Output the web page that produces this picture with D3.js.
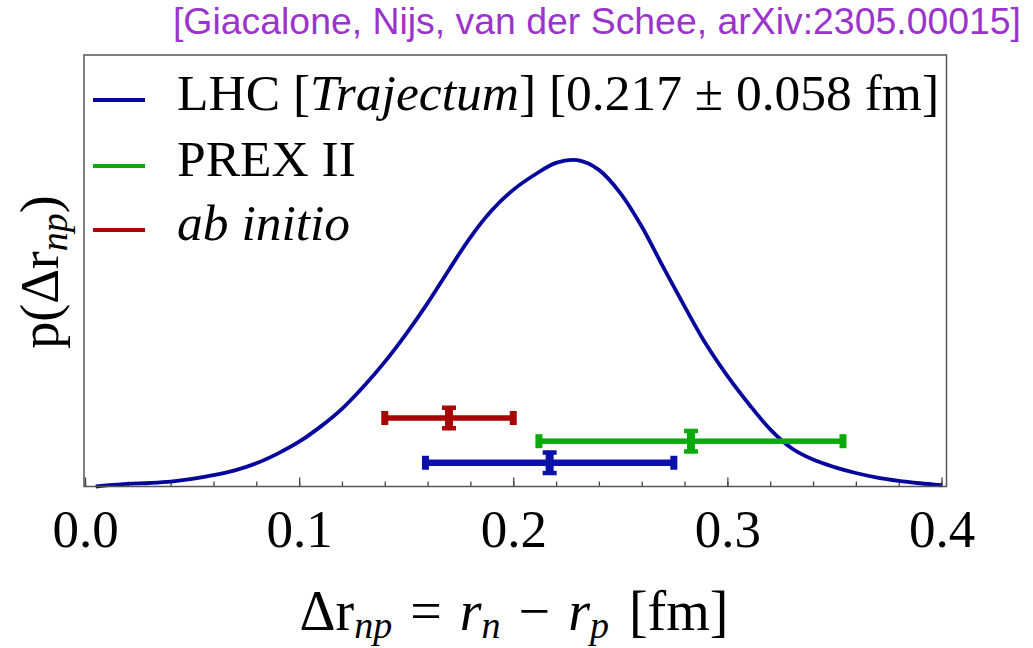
<!DOCTYPE html>
<html>
<head>
<meta charset="utf-8">
<script src="https://cdn.jsdelivr.net/npm/d3@7"></script>
<style>
  html, body { margin: 0; padding: 0; background: #fff; }
  svg { display: block; }
  .serif { font-family: "Liberation Serif", "Times New Roman", serif; fill: #000; }
</style>
</head>
<body>
<svg id="chart" width="1033" height="648"></svg>
<script>
// Posterior of the neutron skin thickness from LHC data, with PREX II and ab initio bands
const curveX = [0.005, 0.01, 0.02, 0.03, 0.04, 0.05, 0.06, 0.07, 0.08, 0.09, 0.10, 0.11, 0.12,
                0.13, 0.14, 0.15, 0.16, 0.17, 0.18, 0.19, 0.20, 0.21, 0.22, 0.23, 0.24,
                0.25, 0.26, 0.27, 0.28, 0.29, 0.30, 0.31, 0.32, 0.33, 0.34, 0.35, 0.36, 0.37,
                0.38, 0.39, 0.40];
const curveP = [0.00, 0.02, 0.05, 0.065, 0.09, 0.14, 0.21, 0.30, 0.43, 0.61, 0.83, 1.11, 1.44,
                1.85, 2.31, 2.83, 3.40, 4.02, 4.62, 5.12, 5.50, 5.78, 6.00, 6.05, 5.87,
                5.44, 4.82, 4.07, 3.34, 2.64, 2.05, 1.53, 1.06, 0.71, 0.50, 0.36, 0.25, 0.165,
                0.105, 0.06, 0.023];

// Measurements drawn as horizontal error bars
const barNames  = ["LHC", "PREX II", "ab initio"];
const barCenter = [0.217, 0.283, 0.17];
const barError  = [0.058, 0.071, 0.03];
const barLevel  = [0.44, 0.84, 1.27];
const barColors = ["#0a10a8", "#0aaa0a", "#a80606"];
const curveColor = "#06069c";

const xTicks = [0.0, 0.1, 0.2, 0.3, 0.4];
const xMinorTicks = d3.range(0, 0.4001, 0.02);

const svg = d3.select("#chart");

const frame = { left: 84, right: 946.5, top: 55, bottom: 486.5 };
const x = d3.scaleLinear().domain([0, 0.4]).range([85, 941.5]);
const y = d3.scaleLinear().domain([0, 8]).range([frame.bottom, frame.top]);

// Citation line
svg.append("text")
  .attr("x", 1021).attr("y", 34)
  .attr("text-anchor", "end")
  .style("font-family", "'Liberation Sans', Arial, sans-serif")
  .style("font-size", "37.4px")
  .style("fill", "#9b34cc")
  .text("[Giacalone, Nijs, van der Schee, arXiv:2305.00015]");

// Minor and major ticks pointing into the frame
const minorAxis = d3.axisBottom(x).tickValues(xMinorTicks).tickSize(-5).tickFormat("");
svg.append("g").attr("transform", `translate(0,${frame.bottom})`).call(minorAxis)
  .call(g => g.select(".domain").remove())
  .call(g => g.selectAll("line").attr("stroke", "#444").attr("stroke-width", 1.3));

const majorAxis = d3.axisBottom(x).tickValues(xTicks).tickSize(-9).tickPadding(23)
  .tickFormat(d3.format(".1f"));
svg.append("g").attr("transform", `translate(0,${frame.bottom})`).call(majorAxis)
  .call(g => g.select(".domain").remove())
  .call(g => g.selectAll("line").attr("stroke", "#444").attr("stroke-width", 1.3))
  .call(g => g.selectAll("text")
    .attr("class", "serif")
    .style("font-size", "53px")
    .style("fill", "#000"));

// Posterior curve
const line = d3.line()
  .x((d, i) => x(curveX[i]))
  .y((d, i) => y(curveP[i]))
  .curve(d3.curveCatmullRom.alpha(0.5));
svg.append("path")
  .datum(curveX)
  .attr("d", line)
  .attr("fill", "none")
  .attr("stroke", curveColor)
  .attr("stroke-width", 3.8)
  .attr("stroke-linejoin", "round");

// Error bars
const bars = svg.append("g");
barNames.forEach((name, i) => {
  const g = bars.append("g").attr("fill", barColors[i]);
  const yc = y(barLevel[i]);
  const x0 = x(barCenter[i] - barError[i]);
  const x1 = x(barCenter[i] + barError[i]);
  const xc = x(barCenter[i]);
  const thick = i === 0 ? 6.5 : 5.5;
  g.append("rect").attr("x", x0).attr("y", yc - thick / 2).attr("width", x1 - x0).attr("height", thick);
  [x0, x1].forEach(xe => {
    g.append("rect").attr("x", xe - 3.5).attr("y", yc - 7).attr("width", 7).attr("height", 14);
  });
  // centre marker
  g.append("rect").attr("x", xc - 4).attr("y", yc - 12).attr("width", 8).attr("height", 24);
  g.append("rect").attr("x", xc - 7).attr("y", yc - 12.5).attr("width", 14).attr("height", 4.5);
  g.append("rect").attr("x", xc - 7).attr("y", yc + 8).attr("width", 14).attr("height", 4.5);
});

// Frame
svg.append("rect")
  .attr("x", frame.left).attr("y", frame.top)
  .attr("width", frame.right - frame.left).attr("height", frame.bottom - frame.top)
  .attr("fill", "none").attr("stroke", "#555").attr("stroke-width", 1.5);

// Legend
const legendY = [110, 176, 240];
const legend = svg.append("g");
barNames.forEach((name, i) => {
  legend.append("line")
    .attr("x1", 93).attr("x2", 145)
    .attr("y1", legendY[i] - 10).attr("y2", legendY[i] - 10)
    .attr("stroke", i === 0 ? curveColor : barColors[i])
    .attr("stroke-width", 4);
});
const legendFont = "51.5px";
const lt0 = legend.append("text").attr("class", "serif").attr("x", 177).attr("y", legendY[0]).style("font-size", legendFont);
lt0.append("tspan").text("LHC [");
lt0.append("tspan").style("font-style", "italic").text("Trajectum");
lt0.append("tspan").text("] [0.217 \u00b1 0.058 fm]");
legend.append("text").attr("class", "serif").attr("x", 177).attr("y", legendY[1]).style("font-size", legendFont)
  .text("PREX II");
legend.append("text").attr("class", "serif").attr("x", 177).attr("y", legendY[2]).style("font-size", legendFont)
  .style("font-style", "italic").text("ab initio");

// X axis title
const subSize = "38px";
const xt = svg.append("text").attr("class", "serif")
  .attr("x", 514).attr("y", 630).attr("text-anchor", "middle").style("font-size", "56px");
xt.append("tspan").text("\u0394r");
xt.append("tspan").style("font-style", "italic").style("font-size", subSize).attr("dy", 8).text("np");
xt.append("tspan").attr("dy", -8).attr("dx", 4).text(" = ");
xt.append("tspan").attr("dx", 4).style("font-style", "italic").text("r");
xt.append("tspan").style("font-style", "italic").style("font-size", subSize).attr("dy", 8).text("n");
xt.append("tspan").attr("dy", -8).attr("dx", 4).text(" \u2212 ");
xt.append("tspan").attr("dx", 4).style("font-style", "italic").text("r");
xt.append("tspan").style("font-style", "italic").style("font-size", subSize).attr("dy", 8).text("p");
xt.append("tspan").attr("dy", -8).attr("dx", 6).text(" [fm]");

// Y axis title
const yt = svg.append("text").attr("class", "serif")
  .attr("transform", "translate(58,272) rotate(-90)")
  .attr("text-anchor", "middle").style("font-size", "54px");
yt.append("tspan").text("p(\u0394r");
yt.append("tspan").style("font-style", "italic").style("font-size", subSize).attr("dy", 9).text("np");
yt.append("tspan").attr("dy", -9).text(")");
</script>
</body>
</html>
